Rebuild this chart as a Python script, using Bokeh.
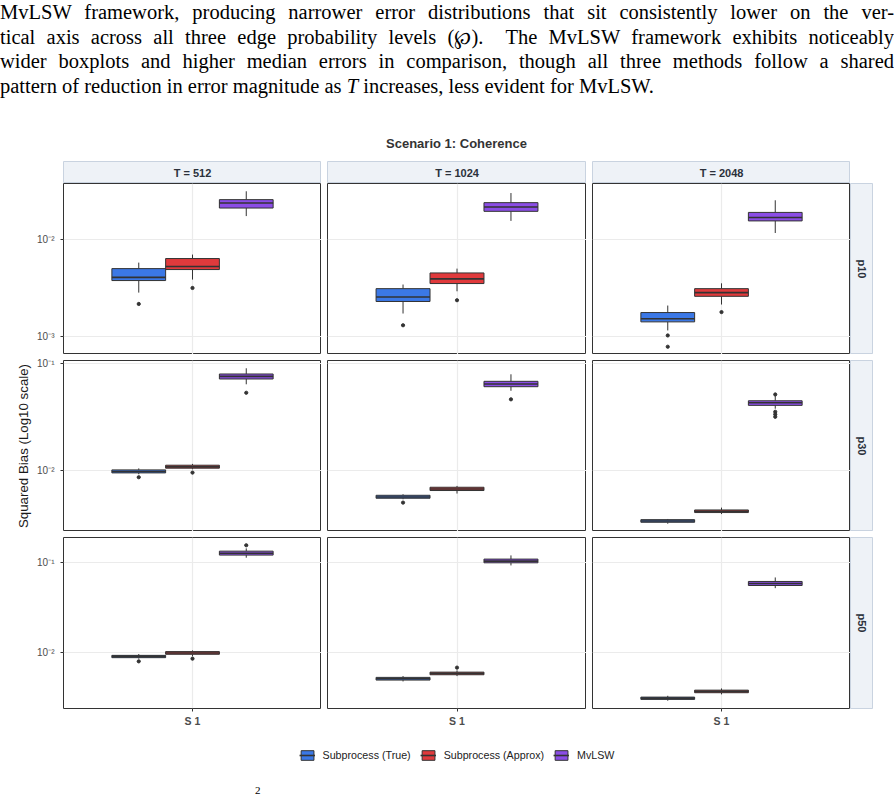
import math

from bokeh.plotting import figure
from bokeh.layouts import column, row
from bokeh.models import (Range1d, FactorRange, FixedTicker, CustomJSTickFormatter,
                          ColumnDataSource, Div, Legend, LegendItem)
from bokeh.transform import dodge
from bokeh.core.properties import value
from bokeh.embed import file_html
from bokeh.resources import INLINE

# ---------------------------------------------------------------- data
scenario_title = "Scenario 1: Coherence"
t_labels = ["T = 512", "T = 1024", "T = 2048"]
p_labels = ["p10", "p30", "p50"]
methods = ["Subprocess (True)", "Subprocess (Approx)", "MvLSW"]
method_colors = ["#3B78E6", "#E03A3C", "#8B4DE6"]
x_category = "S 1"
y_axis_title = "Squared Bias (Log10 scale)"
decade_ticks = [1e-3, 1e-2, 1e-1]

# box-plot statistics, indexed [edge probability][T][method]
whisker_low = [
    [[2.83e-3, 3.86e-3, 1.75e-2], [1.72e-3, 2.92e-3, 1.56e-2], [1.15e-3, 2.13e-3, 1.17e-2]],
    [[9.17e-3, 1.02e-2, 6.36e-2], [5.35e-3, 6.05e-3, 5.53e-2], [3.16e-3, 3.89e-3, 3.76e-2]],
    [[8.50e-3, 9.02e-3, 0.114], [4.73e-3, 5.43e-3, 0.0935], [2.88e-3, 3.39e-3, 5.21e-2]],
]
quartile_1 = [
    [[3.77e-3, 4.90e-3, 2.12e-2], [2.29e-3, 3.51e-3, 1.96e-2], [1.41e-3, 2.59e-3, 1.56e-2]],
    [[9.44e-3, 1.045e-2, 7.13e-2], [5.47e-3, 6.46e-3, 6.04e-2], [3.26e-3, 4.02e-3, 4.04e-2]],
    [[8.72e-3, 9.51e-3, 0.122], [4.90e-3, 5.62e-3, 0.100], [2.98e-3, 3.54e-3, 5.58e-2]],
]
medians = [
    [[4.07e-3, 5.26e-3, 2.39e-2], [2.55e-3, 3.92e-3, 2.17e-2], [1.52e-3, 2.83e-3, 1.69e-2]],
    [[9.72e-3, 1.074e-2, 7.55e-2], [5.62e-3, 6.68e-3, 6.40e-2], [3.35e-3, 4.13e-3, 4.27e-2]],
    [[9.02e-3, 9.82e-3, 0.128], [5.07e-3, 5.82e-3, 0.1045], [3.08e-3, 3.66e-3, 5.87e-2]],
]
quartile_3 = [
    [[5.01e-3, 6.37e-3, 2.59e-2], [3.11e-3, 4.52e-3, 2.41e-2], [1.76e-3, 3.11e-3, 1.91e-2]],
    [[1.007e-2, 1.114e-2, 7.94e-2], [5.83e-3, 6.93e-3, 6.78e-2], [3.45e-3, 4.25e-3, 4.46e-2]],
    [[9.25e-3, 1.019e-2, 0.135], [5.25e-3, 6.01e-3, 0.110], [3.16e-3, 3.78e-3, 6.19e-2]],
]
whisker_high = [
    [[5.78e-3, 7.00e-3, 3.16e-2], [3.43e-3, 5.01e-3, 3.03e-2], [2.08e-3, 3.53e-3, 2.55e-2]],
    [[1.04e-2, 1.146e-2, 8.98e-2], [5.96e-3, 7.13e-3, 7.89e-2], [3.50e-3, 4.47e-3, 4.94e-2]],
    [[9.57e-3, 1.05e-2, 0.145], [5.43e-3, 6.28e-3, 0.121], [3.27e-3, 3.95e-3, 6.86e-2]],
]
outliers = [
    [[[2.16e-3], [3.16e-3], []], [[1.30e-3], [2.36e-3], []], [[1.02e-3, 7.8e-4], [1.78e-3], []]],
    [[[8.6e-3], [9.5e-3], [5.30e-2]], [[4.98e-3], [], [4.60e-2]],
     [[], [], [5.11e-2, 3.52e-2, 3.33e-2, 3.16e-2]]],
    [[[7.93e-3], [8.5e-3], [0.157]], [[], [6.75e-3], []], [[], [], []]],
]

paragraph_lines = [
    "MvLSW framework, producing narrower error distributions that sit consistently lower on the ver-",
    "tical axis across all three edge probability levels (&#8472;).&nbsp; The MvLSW framework exhibits noticeably",
    "wider boxplots and higher median errors in comparison, though all three methods follow a shared",
    "pattern of reduction in error magnitude as <i>T</i> increases, less evident for MvLSW.",
]

# ---------------------------------------------------------------- style
FONT = "Liberation Sans"
INK = "#333333"
GRID = "#EBEBEB"
STRIP_FILL = "#EEF2F7"
STRIP_LINE = "#C9D3E0"
STRIP_TEXT = "#2B313B"
FRAME_W = [258, 259, 258]
FRAME_H = 171
GAP = 6
LEFT_MARGIN = 63
BOTTOM_AXIS = 30
STRIP_H = 22
STRIP_W = 23
BOX_W = 0.25


def log_limits(level):
    vals = []
    for t in range(len(t_labels)):
        for m in range(len(methods)):
            vals += [whisker_low[level][t][m], whisker_high[level][t][m]]
            vals += outliers[level][t][m]
    lo, hi = math.log10(min(vals)), math.log10(max(vals))
    pad = 0.05 * (hi - lo)
    return 10 ** (lo - pad), 10 ** (hi + pad)


sup_formatter = CustomJSTickFormatter(code="""
    const sup = {"-": "\u207b", "0": "\u2070", "1": "\u00b9", "2": "\u00b2", "3": "\u00b3",
                 "4": "\u2074", "5": "\u2075", "6": "\u2076", "7": "\u2077", "8": "\u2078", "9": "\u2079"};
    const e = Math.round(Math.log10(tick));
    return "10" + String(e).split("").map(c => sup[c]).join("");
""")


def blank_fig(width, height, left=0, right=0, top=0, bottom=0, x_range=None):
    f = figure(width=width, height=height,
               x_range=x_range if x_range is not None else Range1d(0, 1),
               y_range=Range1d(0, 1),
               x_axis_location=None, y_axis_location=None,
               toolbar_location=None, output_backend="svg",
               min_border_left=left, min_border_right=right,
               min_border_top=top, min_border_bottom=bottom)
    f.grid.visible = False
    f.outline_line_color = None
    return f


def strip(width, height, label, angle, left=0, top=0, bottom=0):
    s = blank_fig(width, height, left=left, top=top, bottom=bottom)
    s.background_fill_color = STRIP_FILL
    s.outline_line_color = STRIP_LINE
    s.outline_line_width = 1
    s.text(x=[0.5], y=[0.5], text=[label], angle=angle, text_align="center",
           text_baseline="middle", text_font=value(FONT), text_font_style="bold",
           text_font_size="11px", text_color=STRIP_TEXT)
    return s


def add_box(p, src, off, color):
    xc = dodge("x", off, range=p.x_range)
    r_hi = p.segment(x0=xc, y0="q3", x1=xc, y1="hi", source=src, line_color=INK, line_width=1)
    r_lo = p.segment(x0=xc, y0="lo", x1=xc, y1="q1", source=src, line_color=INK, line_width=1)
    r_box = p.vbar(x=xc, width=BOX_W, bottom="q1", top="q3", source=src,
                   fill_color=color, line_color=INK, line_width=1)
    r_med = p.segment(x0=dodge("x", off - BOX_W / 2, range=p.x_range), y0="med",
                      x1=dodge("x", off + BOX_W / 2, range=p.x_range), y1="med",
                      source=src, line_color=INK, line_width=1.6)
    return [r_hi, r_lo, r_box, r_med]


def stats_source(r, c, m):
    return ColumnDataSource(dict(
        x=[x_category], lo=[whisker_low[r][c][m]], q1=[quartile_1[r][c][m]],
        med=[medians[r][c][m]], q3=[quartile_3[r][c][m]], hi=[whisker_high[r][c][m]]))


def panel(r, c):
    left = LEFT_MARGIN if c == 0 else GAP
    top = 0 if r == 0 else GAP
    bottom = BOTTOM_AXIS if r == len(p_labels) - 1 else 0
    ylo, yhi = log_limits(r)
    # one discrete slot, padded by 0.6 slot widths on each side of its centre
    p = figure(width=left + FRAME_W[c], height=top + FRAME_H + bottom,
               x_range=FactorRange(factors=[x_category], range_padding=0.1,
                                   range_padding_units="absolute"),
               y_range=Range1d(ylo, yhi), y_axis_type="log",
               x_axis_location="below" if bottom else None,
               y_axis_location="left" if c == 0 else None,
               toolbar_location=None, output_backend="svg",
               min_border_left=left, min_border_right=0,
               min_border_top=top, min_border_bottom=bottom)
    p.outline_line_color = INK
    p.outline_line_width = 1
    p.xgrid.grid_line_color = GRID
    p.ygrid.grid_line_color = GRID
    p.xgrid.grid_line_width = 1.2
    p.ygrid.grid_line_width = 1.2
    p.ygrid.ticker = FixedTicker(ticks=decade_ticks, minor_ticks=[])

    for ax in p.axis:
        ax.axis_line_color = None
        ax.major_tick_line_color = INK
        ax.major_tick_out = 3
        ax.major_tick_in = 0
        ax.minor_tick_line_color = None
        ax.major_label_text_font = FONT
        ax.major_label_text_color = "#4D4D4D"
    if c == 0:
        p.yaxis.ticker = FixedTicker(ticks=decade_ticks, minor_ticks=[])
        p.yaxis.formatter = sup_formatter
        p.yaxis.major_label_text_font_size = "10px"
        p.yaxis.major_label_standoff = 6
        if r == 1:
            p.yaxis.axis_label = y_axis_title
            p.yaxis.axis_label_text_font = FONT
            p.yaxis.axis_label_text_font_style = "normal"
            p.yaxis.axis_label_text_font_size = "13.3px"
            p.yaxis.axis_label_text_color = "#1A1A1A"
            p.yaxis.axis_label_standoff = 3
    if bottom:
        p.xaxis.major_label_text_font_size = "10.5px"
        p.xaxis.major_label_text_font_style = "bold"
        p.xaxis.major_label_standoff = 3

    n = len(methods)
    for m in range(n):
        off = (m - (n - 1) / 2) * BOX_W
        add_box(p, stats_source(r, c, m), off, method_colors[m])
        outs = outliers[r][c][m]
        if outs:
            osrc = ColumnDataSource(dict(x=[x_category] * len(outs), y=outs))
            p.scatter(x=dodge("x", off, range=p.x_range), y="y", source=osrc,
                      size=3.2, color=INK)
    return p


# ---------------------------------------------------------------- header
para_html = "".join(
    f'<div style="text-align:justify;text-align-last:{"justify" if i < len(paragraph_lines) - 1 else "left"};'
    f'white-space:nowrap;">{line}</div>'
    for i, line in enumerate(paragraph_lines))
header = Div(
    text=(
        '<div style="position:relative;width:894px;height:161px;margin:0;padding:0;">'
        '<div style="position:absolute;left:0;top:0;width:894px;font-family:\'Liberation Serif\';'
        f'font-size:20.5px;line-height:24.7px;color:#000;">{para_html}</div>'
        f'<div style="position:absolute;left:{LEFT_MARGIN}px;width:787px;top:135px;text-align:center;'
        f'font-family:\'{FONT}\';font-weight:bold;font-size:13px;color:#333;">{scenario_title}</div>'
        '</div>'),
    width=894, height=161, margin=0)

# ---------------------------------------------------------------- facets
strip_row = row(
    [strip(LEFT_MARGIN + FRAME_W[0], STRIP_H, t_labels[0], 0, left=LEFT_MARGIN)]
    + [strip(GAP + FRAME_W[c], STRIP_H, t_labels[c], 0, left=GAP) for c in (1, 2)],
    spacing=0)

panel_rows = []
for r, plab in enumerate(p_labels):
    top = 0 if r == 0 else GAP
    bottom = BOTTOM_AXIS if r == len(p_labels) - 1 else 0
    figs = [panel(r, c) for c in range(len(t_labels))]
    figs.append(strip(STRIP_W, top + FRAME_H + bottom, plab, -math.pi / 2, top=top, bottom=bottom))
    panel_rows.append(row(figs, spacing=0))

# ---------------------------------------------------------------- legend
# hidden key renderers: they only lend their styling to the legend entries
leg = blank_fig(850, 34, left=LEFT_MARGIN, x_range=FactorRange(factors=[x_category]))
items = []
for m, (name, color) in enumerate(zip(methods, method_colors)):
    key_rs = add_box(leg, stats_source(0, 0, m), 0, color)
    for kr in key_rs:
        kr.visible = False
    items.append(LegendItem(label=name, renderers=[key_rs[2], key_rs[3]]))
legend = Legend(items=items, orientation="horizontal", location="center",
                glyph_width=16, glyph_height=12, label_standoff=8, spacing=9,
                padding=0, margin=0, border_line_color=None, background_fill_alpha=0,
                label_text_font=FONT, label_text_font_size="10.7px", label_text_color="#222222")
leg.add_layout(legend, "center")

footer = Div(
    text='<div style="position:relative;width:894px;height:30px;">'
         '<span style="position:absolute;left:255px;top:13px;font-family:\'Liberation Serif\';'
         'font-size:11px;line-height:1;">2</span></div>',
    width=894, height=30, margin=0)

layout = column([header, strip_row] + panel_rows + [leg, footer], spacing=0)

with open("out.html", "w", encoding="utf-8") as fh:
    fh.write(file_html(layout, INLINE))
